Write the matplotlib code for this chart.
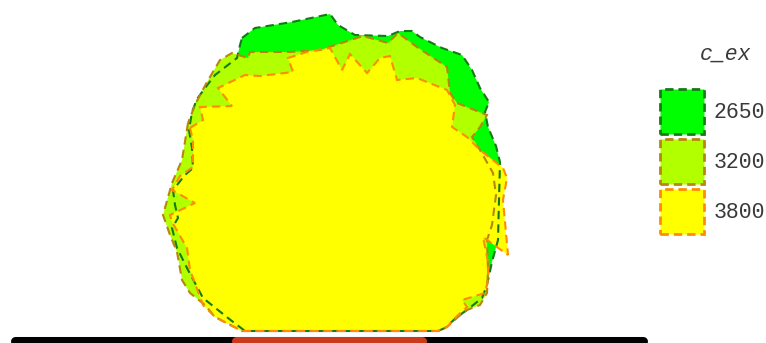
import matplotlib
matplotlib.use("Agg")
import matplotlib.pyplot as plt
from matplotlib.patches import Polygon, Patch

# Contour levels of c_ex and their region outlines (x, y in plot units, y grows downward)
levels = ["2650", "3200", "3800"]
legend_title = "c_ex"
fill_colors = ["#00FF00", "#B2FF00", "#FFFF00"]
edge_colors = ["#167A16", "#B8860B", "#FF8C00"]

region_2650 = [(242, 38), (255, 28), (292, 22), (330, 14), (338, 25), (355, 35), (388, 36),
               (400, 31), (412, 31), (420, 37), (442, 48), (462, 55), (472, 70), (480, 88),
               (489, 102), (485, 112), (488, 127), (496, 146), (500, 162), (499, 200),
               (498, 240), (492, 262), (487, 285), (482, 298), (467, 310), (457, 317),
               (445, 328), (438, 331), (245, 331), (228, 318), (203, 298), (188, 270),
               (177, 248), (172, 228), (178, 218), (175, 205), (173, 190), (185, 175),
               (193, 168), (192, 148), (189, 130), (192, 112), (197, 99), (205, 88),
               (215, 75), (237, 58), (240, 45)]

region_3200 = [(188, 123), (182, 160), (172, 183), (163, 215), (170, 235), (177, 252),
               (182, 280), (190, 293), (205, 305), (215, 317), (242, 331), (438, 331),
               (447, 327), (458, 317), (467, 310), (480, 305), (487, 293), (488, 270),
               (487, 240), (492, 225), (496, 195), (493, 173), (480, 150), (472, 137),
               (480, 127), (487, 115), (457, 103), (450, 93), (447, 67), (417, 47),
               (398, 33), (388, 43), (363, 36), (320, 50), (290, 52), (250, 52),
               (248, 58), (232, 53), (220, 60), (207, 82), (200, 95), (195, 105)]

region_3800 = [(190, 128), (203, 120), (200, 107), (232, 106), (218, 88), (245, 75),
               (260, 76), (293, 72), (288, 58), (310, 51), (330, 48), (342, 70), (350, 54),
               (367, 73), (380, 58), (390, 56), (397, 80), (417, 78), (447, 90), (455, 105),
               (452, 127), (467, 137), (480, 150), (503, 168), (507, 178), (503, 200),
               (508, 255), (483, 237), (488, 262), (488, 280), (485, 293), (462, 300),
               (467, 307), (458, 315), (447, 327), (438, 331), (242, 331), (215, 317),
               (203, 305), (190, 270), (187, 248), (172, 222), (170, 215), (195, 203),
               (172, 190), (180, 176), (193, 167), (193, 140)]

regions = [region_2650, region_3200, region_3800]

# Base line and highlighted segment along the bottom
base_x = [15, 643]
segment_x = [236, 422]
line_y = 341

W, H = 766, 343
fig = plt.figure(figsize=(W / 100, H / 100), dpi=100)
ax = fig.add_axes([0, 0, 1, 1])
ax.set_xlim(0, W)
ax.set_ylim(H, 0)
ax.axis("off")

# fills first, then dashed outlines on top
for i, (pts, fc) in enumerate(zip(regions, fill_colors)):
    ax.add_patch(Polygon(pts, closed=True, facecolor=fc, edgecolor="none", zorder=1 + i))
for i, (pts, ec) in enumerate(zip(regions, edge_colors)):
    ax.add_patch(Polygon(pts, closed=True, facecolor="none", edgecolor=ec,
                         linewidth=1.5, linestyle=(0, (4, 2.5)), zorder=4 + i))

ax.plot(base_x, [line_y, line_y], color="black", linewidth=6.5,
        solid_capstyle="round", zorder=7, clip_on=False)
ax.plot(segment_x, [line_y, line_y], color="#CC3A1E", linewidth=6.5,
        solid_capstyle="round", zorder=8, clip_on=False)

text_color = "#3a3a3a"
font_size = 15.5
handles = [Patch(facecolor=fc, edgecolor=ec, linewidth=2.0, linestyle=(0, (3, 1.8)))
           for fc, ec in zip(fill_colors, edge_colors)]
leg = ax.legend(handles, levels, loc="upper left",
                bbox_to_anchor=(660 / W, 1 - 89 / H), frameon=False,
                prop={"family": "Liberation Mono", "size": font_size},
                handlelength=2.05, handleheight=2.84, labelspacing=0.23,
                handletextpad=0.45, borderaxespad=0, borderpad=0)
for t in leg.get_texts():
    t.set_color(text_color)

ax.text(726, 54, legend_title, ha="center", va="center", color=text_color,
        family="Liberation Mono", style="italic", fontsize=font_size)

fig.savefig("out.png", dpi=100)
